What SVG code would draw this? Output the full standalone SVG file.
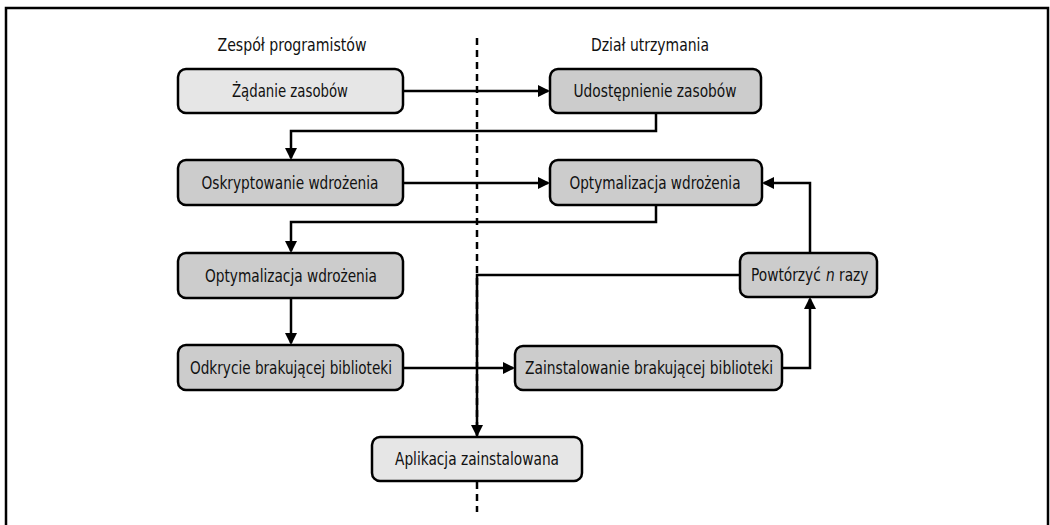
<svg xmlns="http://www.w3.org/2000/svg" width="1050" height="525" viewBox="0 0 1050 525">
<style>
.box{stroke:#000;stroke-width:2.5}
.lt{fill:#e6e6e6}
.dk{fill:#cccccc}
.t{font-family:"DejaVu Sans Condensed","Liberation Sans",sans-serif;font-size:18px;fill:#111;text-anchor:middle}
.s{text-anchor:start}
.c{fill:none;stroke:#000;stroke-width:2.5}
</style>
<defs>
<marker id="ah" markerUnits="userSpaceOnUse" markerWidth="14" markerHeight="14" refX="10" refY="6" orient="auto">
<path d="M0,0 L12,6 L0,12 z" fill="#000"/>
</marker>
</defs>
<rect x="6" y="8" width="1042" height="530" fill="#fff" stroke="#000" stroke-width="2.5"/>
<text class="t" x="292" y="51" textLength="149" lengthAdjust="spacingAndGlyphs">Zespół programistów</text>
<text class="t" x="650" y="51" textLength="118" lengthAdjust="spacingAndGlyphs">Dział utrzymania</text>
<line x1="477" y1="38" x2="477" y2="512" stroke="#000" stroke-width="2.5" stroke-dasharray="7 5"/>
<g id="connectors">
<path class="c" d="M403,91 H548" marker-end="url(#ah)"/>
<path class="c" d="M656,113 V131 H291 V158" marker-end="url(#ah)"/>
<path class="c" d="M403,183 H548" marker-end="url(#ah)"/>
<path class="c" d="M656,205 V222 H291 V251" marker-end="url(#ah)"/>
<path class="c" d="M291,298 V343" marker-end="url(#ah)"/>
<path class="c" d="M403,368 H513" marker-end="url(#ah)"/>
<path class="c" d="M782,368 H810 V299" marker-end="url(#ah)"/>
<path class="c" d="M810,253 V183 H764" marker-end="url(#ah)"/>
<path class="c" d="M740,275 H477 V435" marker-end="url(#ah)"/>
</g>
<g id="n1"><rect class="box lt" x="178" y="69" width="225" height="44" rx="8"/><text class="t" x="290" y="97" textLength="116" lengthAdjust="spacingAndGlyphs">Żądanie zasobów</text></g>
<g id="n2"><rect class="box dk" x="550" y="69" width="211" height="44" rx="8"/><text class="t" x="655" y="97" textLength="163" lengthAdjust="spacingAndGlyphs">Udostępnienie zasobów</text></g>
<g id="n3"><rect class="box dk" x="178" y="160" width="225" height="45" rx="8"/><text class="t" x="290" y="189" textLength="177" lengthAdjust="spacingAndGlyphs">Oskryptowanie wdrożenia</text></g>
<g id="n4"><rect class="box dk" x="550" y="160" width="212" height="45" rx="8"/><text class="t" x="655" y="189" textLength="171" lengthAdjust="spacingAndGlyphs">Optymalizacja wdrożenia</text></g>
<g id="n5"><rect class="box dk" x="178" y="253" width="225" height="45" rx="8"/><text class="t" x="291" y="282" textLength="172" lengthAdjust="spacingAndGlyphs">Optymalizacja wdrożenia</text></g>
<g id="n6"><rect class="box dk" x="178" y="345" width="225" height="45" rx="8"/><text class="t" x="291" y="374" textLength="202" lengthAdjust="spacingAndGlyphs">Odkrycie brakującej biblioteki</text></g>
<g id="n7"><rect class="box dk" x="515" y="346" width="267" height="44" rx="8"/><text class="t" x="649" y="374" textLength="248" lengthAdjust="spacingAndGlyphs">Zainstalowanie brakującej biblioteki</text></g>
<g id="n8"><rect class="box dk" x="740" y="253" width="137" height="44" rx="8"/>
<text class="t s" transform="translate(751,281) scale(0.85,1)">Powtórzyć</text>
<text class="t s" transform="translate(826,281) scale(0.85,1)" font-style="italic">n</text>
<text class="t s" transform="translate(839,281) scale(0.85,1)">razy</text></g>
<g id="n9"><rect class="box lt" x="372" y="437" width="210" height="44" rx="8"/><text class="t" x="477" y="465" textLength="164" lengthAdjust="spacingAndGlyphs">Aplikacja zainstalowana</text></g>
</svg>
